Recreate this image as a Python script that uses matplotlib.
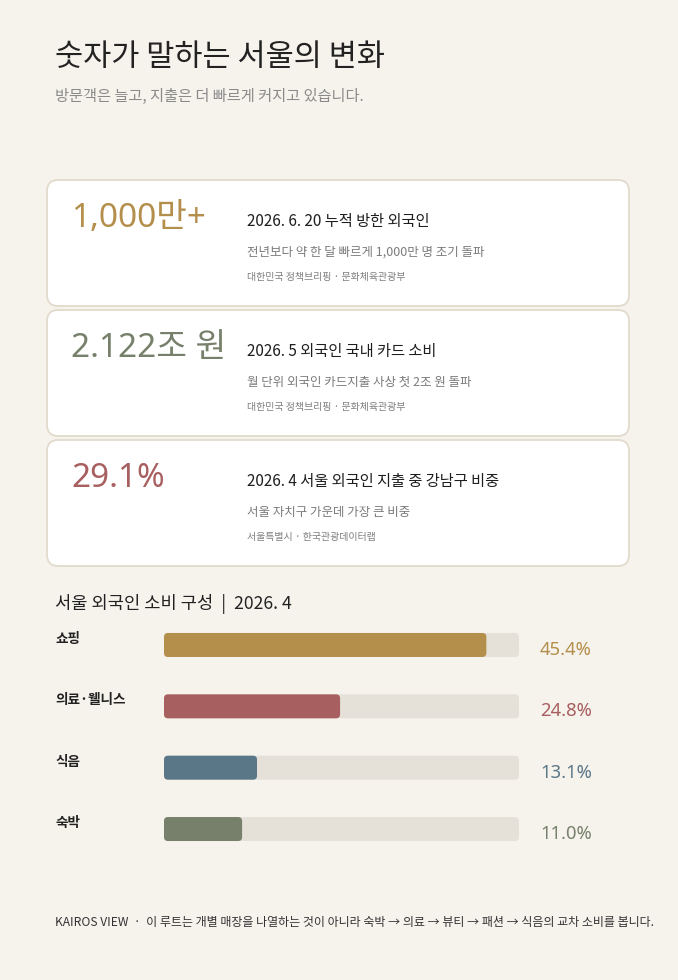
import matplotlib
matplotlib.use('Agg')
import matplotlib.pyplot as plt
import matplotlib.patches as patches
import matplotlib.transforms as mtransforms

plt.rcParams['font.family'] = ['Noto Sans CJK KR', 'DejaVu Sans']
NUM_FONT = ['Noto Sans', 'Noto Sans CJK KR', 'DejaVu Sans']

# ---- data ----
title = '숫자가 말하는 서울의 변화'
subtitle = '방문객은 늘고, 지출은 더 빠르게 커지고 있습니다.'

card_values = ['1,000만+', '2.122조 원', '29.1%']
card_titles = ['2026. 6. 20 누적 방한 외국인',
               '2026. 5 외국인 국내 카드 소비',
               '2026. 4 서울 외국인 지출 중 강남구 비중']
card_descs = ['전년보다 약 한 달 빠르게 1,000만 명 조기 돌파',
              '월 단위 외국인 카드지출 사상 첫 2조 원 돌파',
              '서울 자치구 가운데 가장 큰 비중']
card_sources = ['대한민국 정책브리핑 · 문화체육관광부',
                '대한민국 정책브리핑 · 문화체육관광부',
                '서울특별시 · 한국관광데이터랩']

section_title = '서울 외국인 소비 구성  |  2026. 4'
categories = ['쇼핑', '의료·웰니스', '식음', '숙박']
shares = [45.4, 24.8, 13.1, 11.0]
scale_max = 50

footer = 'KAIROS VIEW  ·  이 루트는 개별 매장을 나열하는 것이 아니라 숙박 → 의료 → 뷰티 → 패션 → 식음의 교차 소비를 봅니다.'

# ---- style ----
BG = '#F6F3ED'
CARD_EDGE = '#E2DBCD'
TRACK = '#E5E1D9'
card_colors = ['#B48E4B', '#76806A', '#A85F5F']
bar_colors = ['#B48E4B', '#A85F5F', '#5A7788', '#76806A']

W, H = 678, 980
fig = plt.figure(figsize=(W / 100, H / 100), dpi=100, facecolor=BG)
ax = fig.add_axes([0, 0, 1, 1])
ax.set_xlim(0, W)
ax.set_ylim(H, 0)
ax.axis('off')
ax.set_facecolor(BG)

ax.text(55, 58, title, fontsize=22, color='#222222', va='center', ha='left')
ax.text(55, 96, subtitle, fontsize=11, color='#8A8A8A', va='center', ha='left')

# cards
card_top = [180, 310, 440]
card_h = 126
for i in range(len(card_values)):
    top = card_top[i]
    box = patches.FancyBboxPatch((47, top), 582, card_h,
                                 boxstyle='round,pad=0,rounding_size=11',
                                 facecolor='white', edgecolor=CARD_EDGE,
                                 linewidth=1.3)
    ax.add_patch(box)
    ax.text(71, top + 38, card_values[i], fontsize=24, color=card_colors[i],
            va='center', ha='left', family=NUM_FONT, fontweight='light')
    ax.text(247, top + 41, card_titles[i], fontsize=11, color='#1E1E1E',
            va='center', ha='left')
    ax.text(247, top + 72, card_descs[i], fontsize=9, color='#7A7A7A',
            va='center', ha='left')
    ax.text(247, top + 97, card_sources[i], fontsize=7.2, color='#7F7F7F',
            va='center', ha='left')

ax.text(55, 604, section_title, fontsize=12.7, color='#222222', va='center', ha='left')

# bar chart axes: x 164..519 px, rows centred at ~645 + 61.3*i
bx0, bx1 = 164, 519
ay_top, ay_bot = 614.3, 859.7
bax = fig.add_axes([bx0 / W, (H - ay_bot) / H, (bx1 - bx0) / W, (ay_bot - ay_top) / H])
bax.set_xlim(0, scale_max)
bax.set_ylim(len(categories) - 0.5, -0.5)
bax.axis('off')
bax.patch.set_alpha(0)

px_x = scale_max / (bx1 - bx0)
px_y = len(categories) / (ay_bot - ay_top)
bar_h = 24 * px_y
aspect = px_y / px_x
r = 4 * px_x

label_tf = mtransforms.blended_transform_factory(ax.transData, bax.transData)
for i, (cat, v) in enumerate(zip(categories, shares)):
    track = patches.FancyBboxPatch((0, i - bar_h / 2), scale_max, bar_h,
                                   boxstyle=f'round,pad=0,rounding_size={r}',
                                   mutation_aspect=aspect, facecolor=TRACK,
                                   edgecolor='none')
    bax.add_patch(track)
    bar = patches.FancyBboxPatch((0, i - bar_h / 2), v, bar_h,
                                 boxstyle=f'round,pad=0,rounding_size={r}',
                                 mutation_aspect=aspect, facecolor=bar_colors[i],
                                 edgecolor='none')
    bax.add_patch(bar)
    ax.text(55, i - 6 * px_y, cat, transform=label_tf, fontsize=9.8,
            color='#222222', va='center', ha='left', fontweight='bold')
    ax.text(540, i + 5 * px_y, f'{v:.1f}%', transform=label_tf, fontsize=13.3,
            color=bar_colors[i], va='center', ha='left', family=NUM_FONT)

ax.text(55, 922, footer, fontsize=8.65, color='#333333', va='center', ha='left')

fig.savefig('out.png', dpi=100, facecolor=BG)
